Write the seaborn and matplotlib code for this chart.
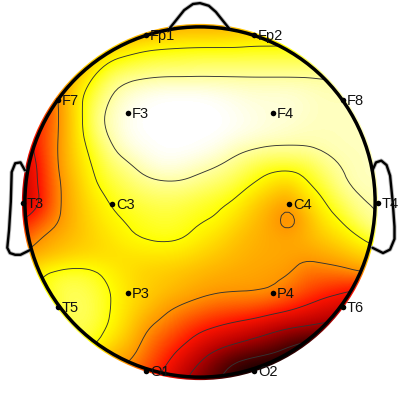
import numpy as np
import matplotlib
matplotlib.use("Agg")
import matplotlib.pyplot as plt
import seaborn as sb
import pandas as pd
from matplotlib.colors import LinearSegmentedColormap
from matplotlib.patches import Circle

electrode_names = ["Fp1", "Fp2", "F7", "F3", "F4", "F8", "T3", "C3", "C4", "T4", "T5", "P3", "P4", "T6", "O1", "O2"]
electrode_x = [-.307, .307, -.807, -.409, .415, .812, -1.006, -.5, .506, 1.011, -.807, -.409, .415, .812, -.307, .307]
electrode_y = [.949, .949, .58, .506, .506, .58, -.006, -.011, -.011, -.006, -.597, -.517, -.517, -.597, -.96, -.96]

contour_levels = [.07, .2, .42, .6, .75, .9]

# amplitude, row by row from the nose down, left to right
field_values = [
    [.50, .50, .50, .50, .50, .50, .45, .42, .40, .38, .38, .38, .36, .34, .32, .30, .30, .30, .30, .30, .30],
    [.55, .55, .50, .45, .38, .32, .28, .25, .24, .23, .23, .23, .23, .22, .22, .22, .20, .18, .18, .18, .18],
    [.60, .55, .50, .40, .28, .20, .17, .15, .14, .14, .13, .13, .13, .13, .13, .13, .13, .12, .12, .12, .12],
    [.62, .55, .47, .30, .19, .11, .08, .07, .065, .065, .065, .065, .065, .065, .065, .065, .065, .07, .07, .07, .07],
    [.62, .52, .43, .24, .14, .065, .03, .01, 0, 0, 0, .01, .02, .03, .03, .03, .04, .05, .05, .05, .05],
    [.65, .58, .43, .26, .10, .05, .01, 0, 0, 0, 0, 0, .01, .02, .03, .03, .04, .05, .05, .05, .05],
    [.65, .55, .43, .26, .11, .05, .01, 0, 0, 0, 0, 0, .01, .02, .03, .04, .05, .05, .05, .05, .05],
    [.68, .55, .42, .27, .16, .075, .03, .01, 0, 0, .005, .02, .05, .065, .075, .075, .07, .06, .05, .05, .05],
    [.70, .58, .42, .29, .19, .12, .08, .04, .02, .03, .05, .07, .10, .14, .17, .17, .16, .10, .065, .05, .05],
    [.72, .58, .44, .32, .21, .16, .12, .09, .08, .08, .10, .12, .15, .20, .26, .30, .21, .15, .08, .05, .05],
    [.74, .60, .44, .33, .25, .19, .16, .14, .13, .14, .16, .18, .21, .29, .35, .40, .29, .20, .13, .075, .06],
    [.60, .52, .43, .34, .27, .22, .19, .17, .16, .17, .19, .21, .27, .33, .39, .47, .37, .25, .19, .11, .07],
    [.52, .42, .37, .33, .29, .25, .21, .19, .18, .19, .23, .27, .32, .36, .38, .39, .36, .31, .26, .20, .12],
    [.40, .36, .32, .29, .28, .27, .26, .25, .25, .26, .29, .32, .35, .37, .38, .39, .40, .38, .35, .30, .28],
    [.30, .20, .17, .16, .18, .23, .27, .30, .31, .33, .35, .37, .38, .39, .40, .41, .47, .47, .46, .43, .40],
    [.30, .20, .14, .13, .15, .20, .26, .30, .33, .36, .39, .405, .41, .41, .42, .47, .52, .56, .59, .62, .65],
    [.35, .25, .15, .12, .14, .20, .27, .33, .40, .44, .47, .50, .51, .52, .55, .58, .62, .66, .68, .72, .75],
    [.40, .30, .17, .13, .15, .21, .30, .41, .46, .52, .57, .60, .63, .66, .70, .73, .75, .77, .80, .84, .88],
    [.30, .25, .22, .15, .18, .27, .35, .46, .53, .59, .66, .71, .75, .79, .83, .89, .93, .95, .95, .95, .95],
    [.30, .30, .30, .30, .30, .38, .42, .50, .58, .67, .75, .84, .91, .94, .96, .98, 1.0, 1.0, 1.0, 1.0, 1.0],
    [.35, .35, .35, .35, .35, .42, .48, .55, .64, .73, .82, .90, .96, 1.0, 1.0, 1.0, 1.0, 1.0, 1.0, 1.0, 1.0],
]

nose_x = [-.17, -.09, -.04, 0, .05, .09, .17]
nose_y = [.99, 1.09, 1.125, 1.13, 1.115, 1.08, .98]
left_ear_x = [-.995, -1.02, -1.05, -1.07, -1.075, -1.085, -1.095, -1.08, -1.05, -1.02, -.96]
left_ear_y = [.18, .225, .22, .17, .0, -.16, -.26, -.29, -.30, -.30, -.27]
right_ear_x = [.98, 1.0, 1.03, 1.06, 1.08, 1.095, 1.105, 1.105, 1.08, 1.04, .98]
right_ear_y = [.18, .225, .235, .21, .15, .0, -.14, -.21, -.27, -.29, -.26]

sb.set_style("white")
plt.rcParams["font.family"] = ["Liberation Sans", "DejaVu Sans"]

head_cmap = LinearSegmentedColormap.from_list("head", [
    (0, "#ffffff"), (.07, "#ffffa0"), (.2, "#ffff00"), (.42, "#ff9600"),
    (.6, "#ff1400"), (.75, "#b40000"), (.9, "#500000"), (1, "#0a0000")])

fig = plt.figure(figsize=(4, 4), dpi=100)
ax = fig.add_axes([0, 0, 1, 1])

field = np.array(field_values)

head_clip = Circle((0, 0), 1.012, transform=ax.transData)
img = ax.imshow(field, cmap=head_cmap, vmin=0, vmax=1, origin="upper", extent=(-1.05, 1.05, -1.05, 1.05),
                interpolation="bicubic", zorder=1)
img.set_clip_path(head_clip)

# contour lines follow a softened copy of the grid so they do not kink at the cell size
k = 5
soft = np.pad(np.kron(field, np.ones((k, k))), k, mode="edge")
box = np.ones(k) / k
for axis in (0, 1):
    for _ in range(2):
        soft = np.apply_along_axis(lambda r: np.convolve(r, box, mode="same"), axis, soft)
soft = soft[k:-k, k:-k]
fine = np.linspace(-1.05, 1.05, soft.shape[0])
lines = ax.contour(fine, fine[::-1], soft, levels=contour_levels, colors="#333333", linewidths=0.65, zorder=2)
lines.set_clip_path(Circle((0, 0), 0.995, transform=ax.transData))

ax.add_patch(Circle((0, 0), 0.995, fill=False, edgecolor="black", linewidth=2.5, zorder=4))

# ears and nose, grey underlay gives the soft edge of the original
for xs, ys in [(nose_x, nose_y), (left_ear_x, left_ear_y), (right_ear_x, right_ear_y)]:
    ax.plot(xs, ys, color="#bbbbbb", linewidth=3, solid_capstyle="round", solid_joinstyle="round", zorder=3)
    ax.plot(xs, ys, color="black", linewidth=1.7, solid_capstyle="round", solid_joinstyle="round", zorder=3)

electrodes = pd.DataFrame({"name": electrode_names, "x": electrode_x, "y": electrode_y})
sb.scatterplot(data=electrodes, x="x", y="y", color="black", s=16, linewidth=0, legend=False, ax=ax, zorder=5)
for name, x, y in zip(electrode_names, electrode_x, electrode_y):
    ax.text(x + 0.022, y - 0.005, name, fontsize=10.5, color="#111111", ha="left", va="center", zorder=6)

ax.set_xlim(-200 / 176, 200 / 176)
ax.set_ylim(-198 / 176, 202 / 176)
ax.set_aspect("equal")
ax.axis("off")

plt.savefig("out.png", dpi=100)
